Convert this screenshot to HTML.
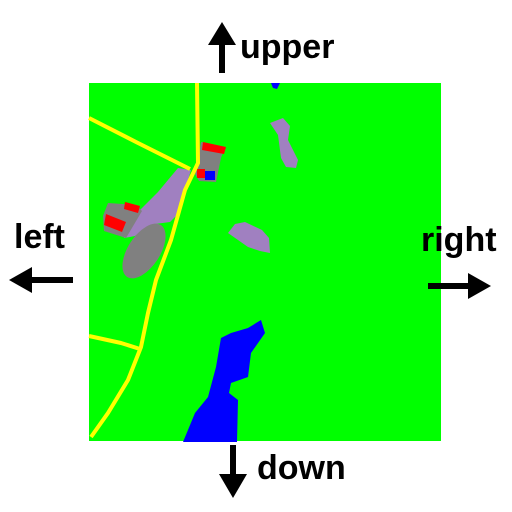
<!DOCTYPE html>
<html><head><meta charset="utf-8"><style>
html,body{margin:0;padding:0;background:#fff;}
svg{display:block}
text{font-family:"Liberation Sans",sans-serif;font-weight:bold;font-size:34px;fill:#000}
</style></head><body>
<svg width="512" height="512" viewBox="0 0 512 512">
<g>
<rect x="89" y="83" width="352" height="358" fill="#00ff00"/>
<path d="M271,83 L280,83 L277,89 L273,88 Z" fill="#0000ff"/>
<path d="M270,123 L283,118 L290,126 L288,140 L298,160 L296,168 L286,167 L281,158 L278,135 Z" fill="#a080c0"/>
<path d="M228,233 L235,224 L245,222 L262,230 L269,238 L270,253 L260,251 L248,247 Z" fill="#a080c0"/>
<path d="M178,168 L191,170 L185,190 L177,215 L170,222 L155,224 L145,228 L135,236 L124,238 L130,222 L140,210 L158,192 Z" fill="#a080c0"/>
<path d="M201,142 L225,147 L221,158 L216,182 L199,181 L195,174 Z" fill="#808080"/>
<path d="M203,142 L226,147 L224,154 L202,150 Z" fill="#ff0000"/>
<rect x="197" y="169" width="8" height="9" fill="#ff0000"/>
<rect x="205" y="171" width="10" height="9" fill="#0000ff"/>
<path d="M108,203 L136,205 L142,211 L126,238 L104,231 L103,216 Z" fill="#808080"/>
<path d="M125,202 L140,206 L138,213 L124,209 Z" fill="#ff0000"/>
<path d="M106,214 L126,222 L122,232 L104,225 Z" fill="#ff0000"/>
<ellipse cx="144" cy="251" rx="16" ry="31" transform="rotate(33 144 251)" fill="#808080"/>
<path d="M261,320 L265,333 L251,353 L248,377 L231,383 L229,393 L238,400 L237,442 L183,442 L195,413 L208,397 L216,367 L221,338 L231,333 L248,328 Z" fill="#0000ff"/>
<g fill="none" stroke="#ffff00" stroke-width="4" stroke-linejoin="round">
<path d="M197,83 L198,163 L185,190 L171,240 L156,280 L148,313 L141,347 L128,380 L108,413 L91,437"/>
<path d="M89,118 L138,143 L190,169"/>
<path d="M89,336 L121,343 L140,349"/>
</g>
</g>
<g><rect x="219" y="44" width="6" height="29" fill="#000"/><path d="M222,22 L236,45 L208,45 Z" fill="#000"/></g>
<text x="240" y="58">upper</text>
<text x="14" y="248">left</text>
<g><rect x="30" y="277" width="43" height="6" fill="#000"/><path d="M9,280 L32,267 L32,293 Z" fill="#000"/></g>
<text x="421" y="251">right</text>
<g><rect x="428" y="283" width="43" height="6" fill="#000"/><path d="M491,286 L468,273 L468,299 Z" fill="#000"/></g>
<g><rect x="230" y="445" width="6" height="30" fill="#000"/><path d="M233,498 L219,474 L247,474 Z" fill="#000"/></g>
<text x="257" y="479">down</text>
</svg>
</body></html>
